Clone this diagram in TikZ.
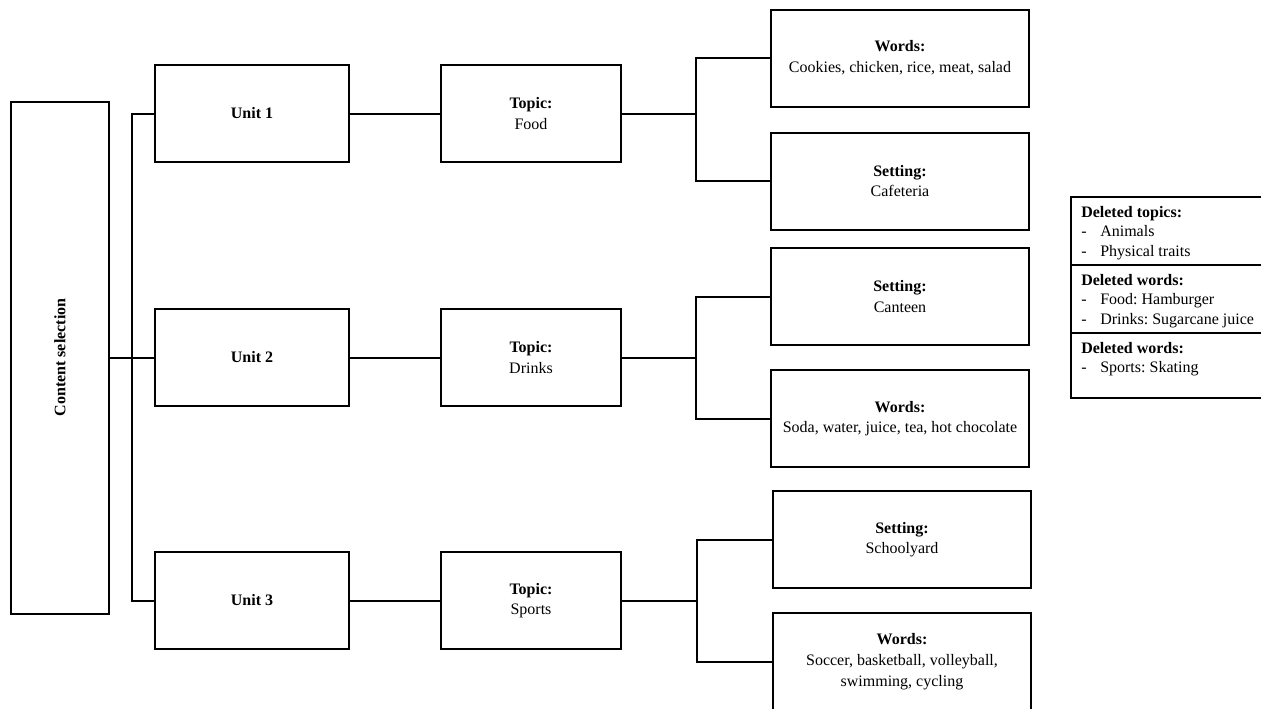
\documentclass[tikz,border=0pt]{standalone}
\usepackage{fontspec}
\setmainfont{Liberation Serif}
\frenchspacing
\tikzset{
  box/.style={
    rectangle, draw=black, line width=1.5pt, fill=white, inner sep=0pt,
    align=center, font=\fontsize{12}{15.5}\selectfont
  },
  main box/.style={
    box, minimum width=73.5pt, minimum height=384pt
  },
  unit box/.style={
    box, minimum width=145.5pt, minimum height=72.75pt,
    font=\fontsize{12}{15.5}\selectfont\bfseries
  },
  topic box/.style={
    box, minimum width=135pt, minimum height=72.75pt
  },
  leaf box/.style={
    box, minimum width=193.5pt, minimum height=72.75pt
  },
  side text/.style={
    anchor=north west, inner sep=0pt, align=left,
    font=\fontsize{12}{14.5}\selectfont
  },
  link/.style={draw=black, line width=1.5pt}
}
\newcommand{\itemdash}{\makebox[14.25pt][l]{-}}

\begin{document}
\begin{tikzpicture}[x=0.75pt, y=-0.75pt]
  \useasboundingbox (0,0) rectangle (1261,708);
  \clip (0,0) rectangle (1261,708);

% ------------------------------------------------
% left: content selection and the three units
% ------------------------------------------------
  \node[main box] (cs) at (60,357.5) {\rotatebox{90}{\bfseries Content selection}};
  \coordinate (jU) at (132,357.5);

  \node[unit box] (u1) at (252,113.5) {Unit 1};
  \node[unit box] (u2) at (252,357.5) {Unit 2};
  \node[unit box] (u3) at (252,600.5) {Unit 3};

  \draw[link] (cs.east) -- (u2.west);
  \draw[link] (u1.west) -| (jU) |- (u3.west);

% ------------------------------------------------
% row 1: food
% ------------------------------------------------
  \node[topic box] (t1) at (531,113.5) {\textbf{Topic:}\\Food};
  \node[leaf box]  (w1) at (900,58)    {\textbf{Words:}\\Cookies, chicken, rice, meat, salad};
  \node[leaf box]  (s1) at (900,181)   {\textbf{Setting:}\\Cafeteria};
  \coordinate (j1) at (696,113.5);

  \draw[link] (u1.east) -- (t1.west);
  \draw[link] (t1.east) -- (j1);
  \draw[link] (w1.west) -| (j1) |- (s1.west);

% ------------------------------------------------
% row 2: drinks
% ------------------------------------------------
  \node[topic box] (t2) at (531,357.5) {\textbf{Topic:}\\Drinks};
  \node[leaf box]  (s2) at (900,296.5) {\textbf{Setting:}\\Canteen};
  \node[leaf box]  (w2) at (900,418.5) {\textbf{Words:}\\Soda, water, juice, tea, hot chocolate};
  \coordinate (j2) at (696,357.5);

  \draw[link] (u2.east) -- (t2.west);
  \draw[link] (t2.east) -- (j2);
  \draw[link] (s2.west) -| (j2) |- (w2.west);

% ------------------------------------------------
% row 3: sports
% ------------------------------------------------
  \node[topic box] (t3) at (531,600.5) {\textbf{Topic:}\\Sports};
  \node[leaf box]  (s3) at (902,539.5) {\textbf{Setting:}\\Schoolyard};
  \node[leaf box]  (w3) at (902,661.5) {\textbf{Words:}\\Soccer, basketball, volleyball,\\swimming, cycling};
  \coordinate (j3) at (697,600.5);

  \draw[link] (u3.east) -- (t3.west);
  \draw[link] (t3.east) -- (j3);
  \draw[link] (s3.west) -| (j3) |- (w3.west);

% ------------------------------------------------
% right: deleted content
% ------------------------------------------------
  \draw[link] (1071,197) rectangle (1275,398);
  \draw[link] (1071,265) -- (1275,265);
  \draw[link] (1071,333) -- (1275,333);

  \node[side text] (d1) at (1081,206) {\textbf{Deleted topics:}\\\itemdash Animals\\\itemdash Physical traits};
  \node[side text] (d2) at (1081,274) {\textbf{Deleted words:}\\\itemdash Food: Hamburger\\\itemdash Drinks: Sugarcane juice};
  \node[side text] (d3) at (1081,342) {\textbf{Deleted words:}\\\itemdash Sports: Skating};
\end{tikzpicture}
\end{document}
